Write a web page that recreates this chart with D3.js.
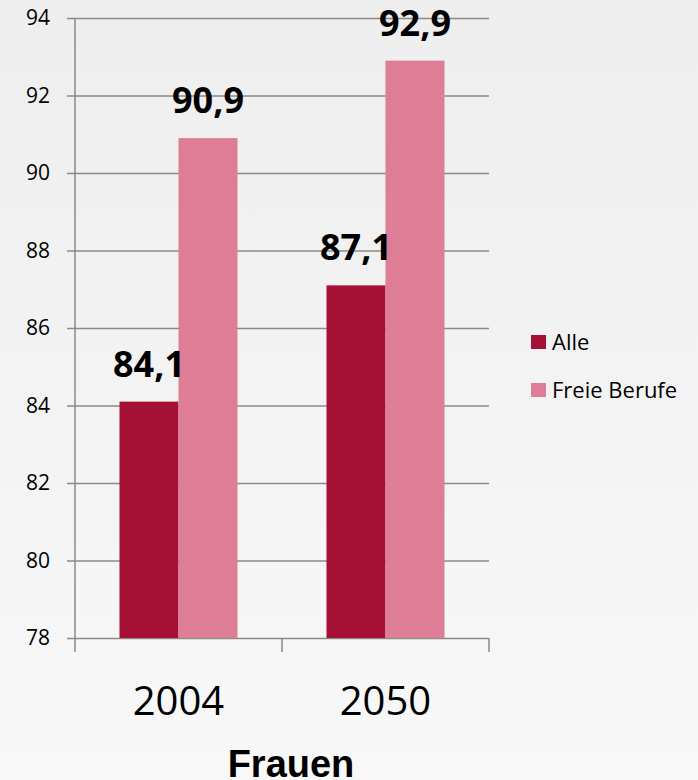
<!DOCTYPE html>
<html>
<head>
<meta charset="utf-8">
<script src="https://cdn.jsdelivr.net/npm/d3@7"></script>
<style>
  body { margin: 0; padding: 0; }
  svg { display: block; }
</style>
</head>
<body>
<div class="chart"></div>
<script>
var width = 698,
    height = 780;

// data
var categories = ["2004", "2050"];
var seriesNames = ["Alle", "Freie Berufe"];
var alleValues = [84.1, 87.1];
var freieValues = [90.9, 92.9];
var yTicks = [78, 80, 82, 84, 86, 88, 90, 92, 94];
var xTitle = "Frauen";

var colors = ["#A51034", "#DE7D96"];

var plot = { left: 75, right: 489, top: 18, bottom: 638 };

var svg = d3.select(".chart")
  .append("svg")
    .attr("width", width)
    .attr("height", height);

// soft grey background
var grad = svg.append("defs").append("linearGradient")
    .attr("id", "bg")
    .attr("x1", 0).attr("y1", 0).attr("x2", 0).attr("y2", 1);
grad.append("stop").attr("offset", "0%").attr("stop-color", "#eeeeee");
grad.append("stop").attr("offset", "100%").attr("stop-color", "#f8f8f8");
svg.append("rect")
    .attr("width", width)
    .attr("height", height)
    .attr("fill", "url(#bg)");

var y = d3.scaleLinear()
  .domain([78, 94])
  .range([plot.bottom, plot.top]);

var x0 = d3.scaleBand()
  .domain(categories)
  .range([plot.left, plot.right]);

var groupW = x0.bandwidth() * 0.57;
var x1 = d3.scaleBand()
  .domain(seriesNames)
  .range([(x0.bandwidth() - groupW) / 2, (x0.bandwidth() + groupW) / 2]);

var color = d3.scaleOrdinal()
  .domain(seriesNames)
  .range(colors);

// grid lines + y labels
var yAxis = d3.axisLeft(y)
  .tickValues(yTicks)
  .tickSize(-(plot.right - plot.left))
  .tickPadding(25)
  .tickFormat(d3.format("d"));

var gy = svg.append("g")
    .attr("transform", "translate(" + plot.left + ",0)")
    .call(yAxis);
gy.select(".domain").remove();
gy.selectAll(".tick line")
    .attr("x1", -8)
    .attr("stroke", "#8a8a8a")
    .attr("stroke-width", 1.5);
gy.selectAll(".tick text")
    .style("font-family", '"Open Sans", sans-serif')
    .style("font-size", "21px")
    .attr("fill", "#000");

// y axis line
svg.append("line")
    .attr("x1", plot.left).attr("x2", plot.left)
    .attr("y1", plot.top).attr("y2", plot.bottom + 14)
    .attr("stroke", "#8a8a8a")
    .attr("stroke-width", 1.5);

// category ticks
var catEdges = categories.map(function(c) { return x0(c) + x0.bandwidth(); });
svg.selectAll(".cat-tick")
  .data(catEdges)
  .enter()
  .append("line")
    .attr("x1", function(d) { return d; })
    .attr("x2", function(d) { return d; })
    .attr("y1", plot.bottom)
    .attr("y2", plot.bottom + 14)
    .attr("stroke", "#8a8a8a")
    .attr("stroke-width", 1.5);

// bars
var rows = categories.map(function(c, i) {
  return { cat: c, values: [
    { name: seriesNames[0], value: alleValues[i] },
    { name: seriesNames[1], value: freieValues[i] }
  ] };
});

var groups = svg.selectAll(".group")
  .data(rows)
  .enter()
  .append("g")
    .attr("transform", function(d) { return "translate(" + x0(d.cat) + ",0)"; });

groups.selectAll("rect")
  .data(function(d) { return d.values; })
  .enter()
  .append("rect")
    .attr("x", function(d) { return x1(d.name); })
    .attr("width", x1.bandwidth())
    .attr("y", function(d) { return y(d.value); })
    .attr("height", function(d) { return y(78) - y(d.value); })
    .attr("fill", function(d) { return color(d.name); });

// value labels
groups.selectAll(".val")
  .data(function(d) { return d.values; })
  .enter()
  .append("text")
    .attr("x", function(d) { return x1(d.name) + x1.bandwidth() / 2; })
    .attr("y", function(d) { return y(d.value) - 25; })
    .attr("text-anchor", "middle")
    .style("font-family", '"Open Sans", sans-serif')
    .style("font-weight", "700")
    .style("font-size", "36px")
    .text(function(d) { return d3.format(".1f")(d.value).replace(".", ","); });

// category labels
svg.selectAll(".cat")
  .data(categories)
  .enter()
  .append("text")
    .attr("x", function(d) { return x0(d) + x0.bandwidth() / 2; })
    .attr("y", 715)
    .attr("text-anchor", "middle")
    .style("font-family", '"Open Sans", sans-serif')
    .style("font-size", "40px")
    .text(function(d) { return d; });

// axis title
svg.append("text")
    .attr("x", 291)
    .attr("y", 777)
    .attr("text-anchor", "middle")
    .style("font-family", '"Liberation Sans", Arial, sans-serif')
    .style("font-weight", "700")
    .style("font-size", "38px")
    .text(xTitle);

// legend
var legend = svg.selectAll(".legend")
  .data(seriesNames)
  .enter()
  .append("g")
    .attr("transform", function(d, i) { return "translate(531," + (342 + i * 48) + ")"; });

legend.append("rect")
    .attr("x", 0)
    .attr("y", -7)
    .attr("width", 15)
    .attr("height", 14)
    .attr("fill", function(d) { return color(d); });

legend.append("text")
    .attr("x", 21)
    .attr("y", 0)
    .attr("dy", "0.35em")
    .style("font-family", '"Open Sans", sans-serif')
    .style("font-size", "22px")
    .text(function(d) { return d; });
</script>
</body>
</html>
